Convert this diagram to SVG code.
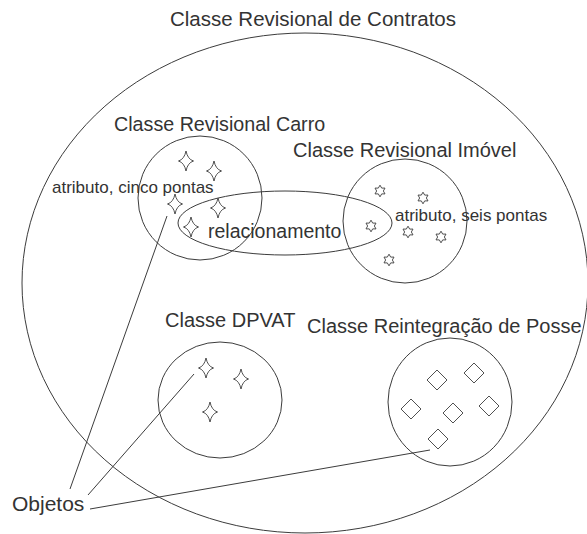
<svg xmlns="http://www.w3.org/2000/svg" width="587" height="534" viewBox="0 0 587 534">
  <style>
    .ring { fill: none; stroke: #3c3c3c; stroke-width: 1; }
    .link { fill: none; stroke: #3c3c3c; stroke-width: 1; }
    .obj { fill: #ffffff; stroke: #3c3c3c; stroke-width: 0.9; stroke-linejoin: round; }
    .lbl { font-family: "Liberation Sans", Arial, sans-serif; font-size: 20px; fill: #333333; }
    .small { font-size: 17px; }
  </style>
  <defs>
    <!-- four-pointed star -->
    <path id="star4" d="M0,-10 Q1.6,-1.8 7.5,0 Q1.6,1.8 0,10 Q-1.6,1.8 -7.5,0 Q-1.6,-1.8 0,-10 Z"/>
    <!-- six-pointed star outline -->
    <path id="star6" d="M0,-5.8 L1.7,-2.9 L5,-2.9 L3.35,0 L5,2.9 L1.7,2.9 L0,5.8 L-1.7,2.9 L-5,2.9 L-3.35,0 L-5,-2.9 L-1.7,-2.9 Z"/>
    <!-- diamond -->
    <path id="diamond" d="M0,-10 L10,0 L0,10 L-10,0 Z"/>
  </defs>

  <rect width="587" height="534" fill="#ffffff"/>

  <!-- outer class -->
  <g id="contratos">
    <ellipse class="ring" cx="305" cy="283" rx="283" ry="250"/>
    <text class="lbl" x="170" y="26" style="font-size:20.5px">Classe Revisional de Contratos</text>
  </g>

  <!-- relationship between Carro and Imóvel -->
  <g id="relacionamento">
    <ellipse class="ring" cx="285" cy="223" rx="107" ry="32"/>
    <text class="lbl" x="208" y="238" style="font-size:19.5px">relacionamento</text>
  </g>

  <g id="carro">
    <circle class="ring" cx="200" cy="198" r="62"/>
    <text class="lbl" x="114" y="131" style="font-size:19.7px">Classe Revisional Carro</text>
    <use href="#star4" class="obj" x="186" y="161"/>
    <use href="#star4" class="obj" x="214" y="171"/>
    <use href="#star4" class="obj" x="175" y="204"/>
    <use href="#star4" class="obj" x="218" y="208"/>
    <use href="#star4" class="obj" x="191" y="227"/>
    <text class="lbl small" x="52" y="193">atributo, cinco pontas</text>
  </g>

  <g id="imovel">
    <circle class="ring" cx="405" cy="221" r="62"/>
    <text class="lbl" x="293" y="157">Classe Revisional Imóvel</text>
    <use href="#star6" class="obj" x="380" y="191"/>
    <use href="#star6" class="obj" x="423" y="198"/>
    <use href="#star6" class="obj" x="371" y="226"/>
    <use href="#star6" class="obj" x="408" y="232"/>
    <use href="#star6" class="obj" x="441" y="237"/>
    <use href="#star6" class="obj" x="389" y="260"/>
    <text class="lbl small" x="395" y="221">atributo, seis pontas</text>
  </g>

  <g id="dpvat">
    <ellipse class="ring" cx="220" cy="400" rx="62" ry="58"/>
    <text class="lbl" x="165" y="327">Classe DPVAT</text>
    <use href="#star4" class="obj" x="206" y="368"/>
    <use href="#star4" class="obj" x="241" y="379"/>
    <use href="#star4" class="obj" x="210" y="412"/>
  </g>

  <g id="reintegracao">
    <ellipse class="ring" cx="450" cy="402" rx="62" ry="64"/>
    <text class="lbl" x="307" y="333">Classe Reintegração de Posse</text>
    <use href="#diamond" class="obj" x="437" y="380"/>
    <use href="#diamond" class="obj" x="474" y="373"/>
    <use href="#diamond" class="obj" x="411" y="409"/>
    <use href="#diamond" class="obj" x="453" y="413"/>
    <use href="#diamond" class="obj" x="489" y="406"/>
    <use href="#diamond" class="obj" x="438" y="439"/>
  </g>

  <g id="objetos">
    <text class="lbl" x="12" y="511" style="font-size:21px">Objetos</text>
  </g>

  <!-- pointers from the label to sample objects -->
  <g id="connectors">
    <line class="link" x1="167" y1="216" x2="70" y2="489"/>
    <line class="link" x1="194" y1="374" x2="88" y2="495"/>
    <line class="link" x1="430" y1="450" x2="90" y2="509"/>
  </g>
</svg>
